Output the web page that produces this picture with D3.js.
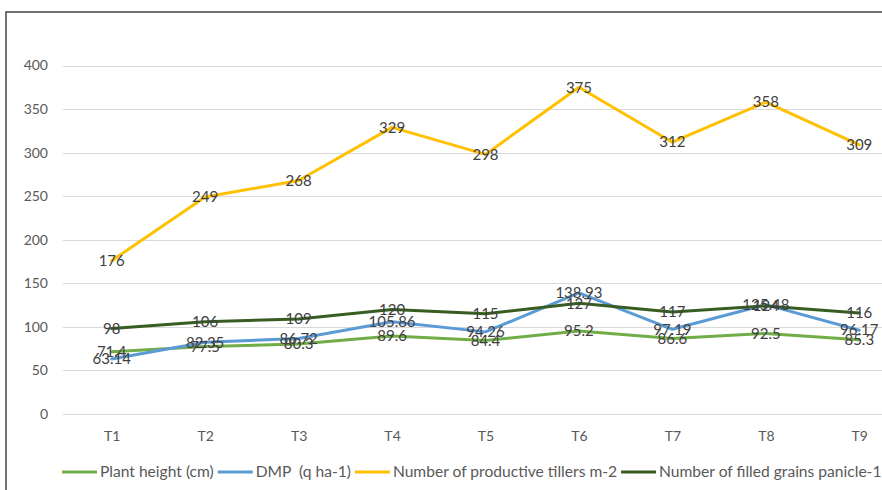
<!DOCTYPE html>
<html>
<head>
<meta charset="utf-8">
<script src="https://cdn.jsdelivr.net/npm/d3@7"></script>
<style>
  html, body { margin: 0; padding: 0; background: #fff; }
  svg { display: block; }
</style>
</head>
<body>
<svg id="chart" width="882" height="490"></svg>
<script>
const categories = ["T1","T2","T3","T4","T5","T6","T7","T8","T9"];
const plantHeight = [71.4, 77.5, 80.3, 89.6, 84.4, 95.2, 86.6, 92.5, 85.3];
const dmp = [63.14, 82.35, 86.72, 105.86, 94.26, 138.93, 97.19, 125.48, 96.17];
const tillers = [176, 249, 268, 329, 298, 375, 312, 358, 309];
const grains = [98, 106, 109, 120, 115, 127, 117, 124, 116];
const yTicks = [0, 50, 100, 150, 200, 250, 300, 350, 400];
const seriesNames = ["Plant height (cm)", "DMP  (q ha-1)", "Number of productive tillers m-2", "Number of filled grains panicle-1"];
const seriesColors = ["#70AD47", "#5B9BD5", "#FFC000", "#385D22"];

const series = [plantHeight, dmp, tillers, grains].map((vals, i) => ({
  name: seriesNames[i], color: seriesColors[i], values: vals
}));

const svg = d3.select("#chart");
const font = "Lato, 'Open Sans', sans-serif";

// outer frame (cropped chart border)
svg.append("rect")
  .attr("x", 6).attr("y", 12)
  .attr("width", 1000).attr("height", 1000)
  .attr("fill", "none").attr("stroke", "#505050").attr("stroke-width", 1.6);

const x = d3.scalePoint().domain(categories).range([65, 906]).padding(0.5);
const y = d3.scaleLinear().domain([0, 400]).range([414, 65.5]);

// gridlines
svg.append("g").selectAll("line").data(yTicks).join("line")
  .attr("x1", 63).attr("x2", 906)
  .attr("y1", d => Math.round(y(d)) + 0.5).attr("y2", d => Math.round(y(d)) + 0.5)
  .attr("stroke", "#D9D9D9").attr("stroke-width", 1);

// y axis labels
const yAxis = d3.axisLeft(y).tickValues(yTicks).tickSize(0).tickPadding(0);
const gy = svg.append("g").attr("transform", "translate(48,0)").call(yAxis);
gy.select(".domain").remove();
gy.selectAll("text").attr("font-family", font).attr("font-size", 14).attr("fill", "#595959");

// x axis labels
const xAxis = d3.axisBottom(x).tickSize(0).tickPadding(0);
const gx = svg.append("g").attr("transform", "translate(0,431)").call(xAxis);
gx.select(".domain").remove();
gx.selectAll("text").attr("font-family", font).attr("font-size", 14).attr("fill", "#595959");

// lines
const line = d3.line().x((d, i) => x(categories[i])).y(d => y(d));
svg.append("g").selectAll("path").data(series).join("path")
  .attr("d", d => line(d.values))
  .attr("fill", "none")
  .attr("stroke", d => d.color)
  .attr("stroke-width", 3)
  .attr("stroke-linejoin", "round")
  .attr("stroke-linecap", "round");

// data labels
const lg = svg.append("g");
series.forEach(s => {
  lg.selectAll(null).data(s.values).join("text")
    .attr("x", (d, i) => x(categories[i]))
    .attr("y", d => y(d))
    .attr("dy", "0.35em")
    .attr("text-anchor", "middle")
    .attr("font-family", font).attr("font-size", 15)
    .attr("fill", "#404040")
    .text(d => d);
});

// legend: sequential layout
const leg = svg.append("g").attr("transform", "translate(0,472)");
let cx = 62;
series.forEach((s, i) => {
  const g = leg.append("g").attr("transform", `translate(${cx},0)`);
  g.append("line").attr("x1", 0).attr("x2", 35).attr("y1", 0).attr("y2", 0)
    .attr("stroke", s.color).attr("stroke-width", 3);
  const t = g.append("text").attr("x", 38).attr("y", 0).attr("dy", "0.35em")
    .attr("font-family", font).attr("font-size", 15.6).attr("fill", "#595959")
    .style("white-space", "pre")
    .text(s.name);
  cx += 38 + t.node().getComputedTextLength() + 4;
});
</script>
</body>
</html>
